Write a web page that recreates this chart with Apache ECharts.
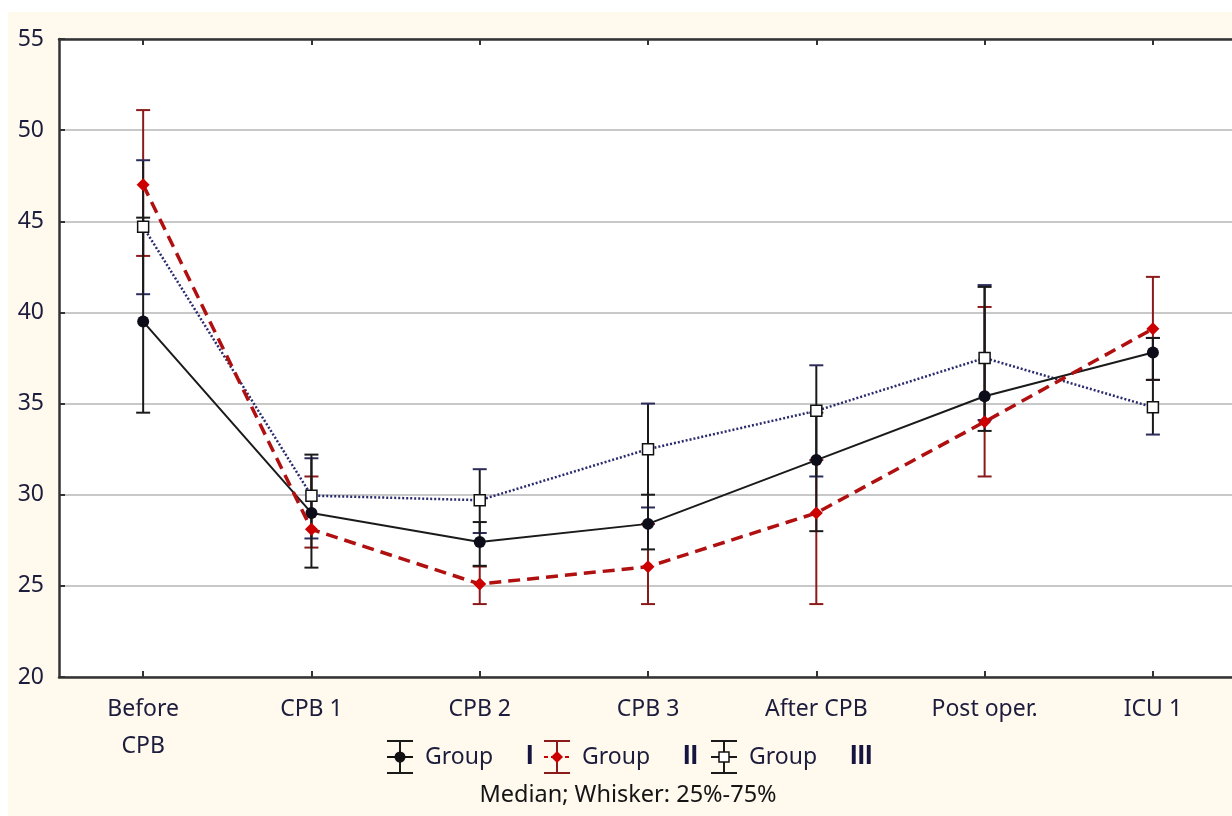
<!DOCTYPE html>
<html>
<head>
<meta charset="utf-8">
<title>Median; Whisker: 25%-75%</title>
<script src="https://cdn.jsdelivr.net/npm/echarts@6/dist/echarts.min.js"></script>
<style>
  html, body { margin: 0; padding: 0; background: #ffffff; }
  #chart { width: 1232px; height: 816px; }
</style>
</head>
<body>
<div id="chart"></div>
<script>
// categories on the x axis
var categories = ["Before\nCPB", "CPB 1", "CPB 2", "CPB 3", "After CPB", "Post oper.", "ICU 1"];
var yTicks = [20, 25, 30, 35, 40, 45, 50, 55];

// medians
var groupI   = [39.5, 29.0, 27.4, 28.4, 31.9, 35.4, 37.8];
var groupII  = [47.0, 28.1, 25.1, 26.05, 29.0, 34.0, 39.1];
var groupIII = [44.7, 29.95, 29.7, 32.5, 34.6, 37.5, 34.8];

// whiskers 25% - 75%
var groupILow    = [34.5, 26.0, 26.1, 27.0, 28.0, 33.5, 36.3];
var groupIHigh   = [45.2, 32.2, 28.5, 30.0, 34.5, 41.4, 38.6];
var groupIILow   = [43.1, 27.1, 24.0, 24.0, 24.0, 31.0, 36.3];
var groupIIHigh  = [51.1, 31.0, 26.06, 28.4, 31.9, 40.3, 41.95];
var groupIIILow  = [41.0, 27.6, 27.9, 29.3, 31.0, 34.1, 33.3];
var groupIIIHigh = [48.35, 32.0, 31.4, 35.0, 37.1, 41.5, 38.6];

var textColor = "#1c1c3c";
var fontFamily = "Noto Sans";
var catIdx = categories.map(function (c, i) { return i; });

function points(vals) {
  return vals.map(function (v, i) { return [i, v]; });
}

function whiskerData(low, high) {
  return low.map(function (v, i) { return [i, v, high[i]]; });
}

// vertical line + caps for each category
function whiskerRender(lineColor, capColor) {
  return function (params, api) {
    var lo = api.coord([api.value(0), api.value(1)]);
    var hi = api.coord([api.value(0), api.value(2)]);
    var half = 7;
    var style = { stroke: lineColor, lineWidth: 2 };
    var capStyle = { stroke: capColor, lineWidth: 2 };
    return {
      type: "group",
      children: [
        { type: "line", shape: { x1: lo[0], y1: lo[1], x2: hi[0], y2: hi[1] }, style: style },
        { type: "line", shape: { x1: lo[0] - half, y1: lo[1], x2: lo[0] + half, y2: lo[1] }, style: capStyle },
        { type: "line", shape: { x1: hi[0] - half, y1: hi[1], x2: hi[0] + half, y2: hi[1] }, style: capStyle }
      ]
    };
  };
}

// legend drawn by hand (icons are whisker symbols)
function legendItem(x, iconColor, marker, label, numeral, numeralX) {
  var cy = 757;
  var kids = [
    { type: "line", shape: { x1: x, y1: cy - 16, x2: x, y2: cy + 16 }, style: { stroke: iconColor, lineWidth: 2 } },
    { type: "line", shape: { x1: x - 13, y1: cy - 16, x2: x + 13, y2: cy - 16 }, style: { stroke: iconColor, lineWidth: 2 } },
    { type: "line", shape: { x1: x - 13, y1: cy + 16, x2: x + 13, y2: cy + 16 }, style: { stroke: iconColor, lineWidth: 2 } },
    { type: "line", shape: { x1: x - 13, y1: cy, x2: x + 13, y2: cy }, style: { stroke: marker.line, lineWidth: 2, lineDash: marker.dash } }
  ];
  if (marker.type === "circle") {
    kids.push({ type: "circle", shape: { cx: x, cy: cy, r: 5.5 }, style: { fill: marker.fill } });
  } else if (marker.type === "diamond") {
    kids.push({ type: "polygon", shape: { points: [[x, cy - 6], [x + 6, cy], [x, cy + 6], [x - 6, cy]] }, style: { fill: marker.fill } });
  } else {
    kids.push({ type: "rect", shape: { x: x - 5, y: cy - 5, width: 10, height: 10 }, style: { fill: "#fff", stroke: "#111", lineWidth: 1.5 } });
  }
  kids.push({ type: "text", x: x + 25, y: cy, style: { text: label, fill: textColor, fontSize: 23, fontFamily: fontFamily, verticalAlign: "middle" } });
  kids.push({ type: "text", x: numeralX, y: cy, style: { text: numeral, fill: "#15153f", fontSize: 27, fontWeight: "bold", fontFamily: "Liberation Sans", verticalAlign: "middle" } });
  return { type: "group", children: kids };
}

var chart = echarts.init(document.getElementById("chart"));

var xBase = {
  type: "value",
  min: -0.5,
  max: 6.47,
  axisLine: { show: true, onZero: false, lineStyle: { color: "#333", width: 2.5 } },
  axisTick: { show: true, inside: true, length: 6, customValues: catIdx, lineStyle: { color: "#333", width: 2 } },
  splitLine: { show: false }
};

var option = {
  animation: false,
  backgroundColor: "#ffffff",
  grid: { left: 59, top: 39, right: 0, bottom: 139, show: false },
  graphic: [
    { type: "rect", z: -10, silent: true, shape: { x: 8, y: 12, width: 1224, height: 804 }, style: { fill: "#fff9ee" } },
    { type: "rect", z: -9, silent: true, shape: { x: 59, y: 39, width: 1173, height: 638 }, style: { fill: "#ffffff" } },
    legendItem(400, "#1a1a1a", { type: "circle", fill: "#111", line: "#111" }, "Group", "I", 526),
    legendItem(557, "#8b1a1a", { type: "diamond", fill: "#cc0000", line: "#cc0000", dash: [4, 3] }, "Group", "II", 683),
    legendItem(724, "#1a1a1a", { type: "square", line: "#1a1a1a" }, "Group", "III", 850),
    { type: "text", x: 628, y: 795, style: { text: "Median; Whisker: 25%-75%", fill: "#151515", fontSize: 23.5, fontFamily: fontFamily, align: "center", verticalAlign: "middle" } }
  ],
  xAxis: [
    Object.assign({}, xBase, {
      position: "bottom",
      axisLabel: {
        customValues: catIdx,
        formatter: function (v) { return categories[Math.round(v)]; },
        color: textColor, fontSize: 23, fontFamily: fontFamily, margin: 14, lineHeight: 37
      }
    }),
    Object.assign({}, xBase, {
      position: "top",
      axisLabel: { show: false }
    })
  ],
  yAxis: {
    type: "value",
    min: yTicks[0],
    max: yTicks[yTicks.length - 1],
    interval: 5,
    axisLine: { show: true, onZero: false, lineStyle: { color: "#333", width: 2.5 } },
    axisTick: { show: true, inside: true, length: 6, lineStyle: { color: "#333", width: 2 } },
    axisLabel: { color: textColor, fontSize: 23, fontFamily: fontFamily, margin: 15 },
    splitLine: { show: true, lineStyle: { color: "#c8c8c8", width: 2 } }
  },
  series: [
    {
      name: "Group II whisker",
      type: "custom",
      renderItem: whiskerRender("#8b1a1a", "#8b1a1a"),
      data: whiskerData(groupIILow, groupIIHigh),
      encode: { x: 0, y: [1, 2] },
      z: 1
    },
    {
      name: "Group III whisker",
      type: "custom",
      renderItem: whiskerRender("#1a1a1a", "#2c2c5c"),
      data: whiskerData(groupIIILow, groupIIIHigh),
      encode: { x: 0, y: [1, 2] },
      z: 2
    },
    {
      name: "Group I whisker",
      type: "custom",
      renderItem: whiskerRender("#1a1a1a", "#1a1a1a"),
      data: whiskerData(groupILow, groupIHigh),
      encode: { x: 0, y: [1, 2] },
      z: 2
    },
    {
      name: "Group III",
      type: "line",
      data: points(groupIII),
      symbol: "rect",
      symbolSize: 11,
      itemStyle: { color: "#ffffff", borderColor: "#111", borderWidth: 1.5 },
      lineStyle: { color: "#2a2a6e", width: 2.5, type: [2, 2] },
      z: 3
    },
    {
      name: "Group I",
      type: "line",
      data: points(groupI),
      symbol: "circle",
      symbolSize: 12,
      itemStyle: { color: "#0d0d1a" },
      lineStyle: { color: "#1a1a1a", width: 2 },
      z: 4
    },
    {
      name: "Group II",
      type: "line",
      data: points(groupII),
      symbol: "diamond",
      symbolSize: 13,
      itemStyle: { color: "#cc0000" },
      lineStyle: { color: "#b01010", width: 3.5, type: [12, 7] },
      z: 5
    }
  ]
};

chart.setOption(option);
</script>
</body>
</html>
